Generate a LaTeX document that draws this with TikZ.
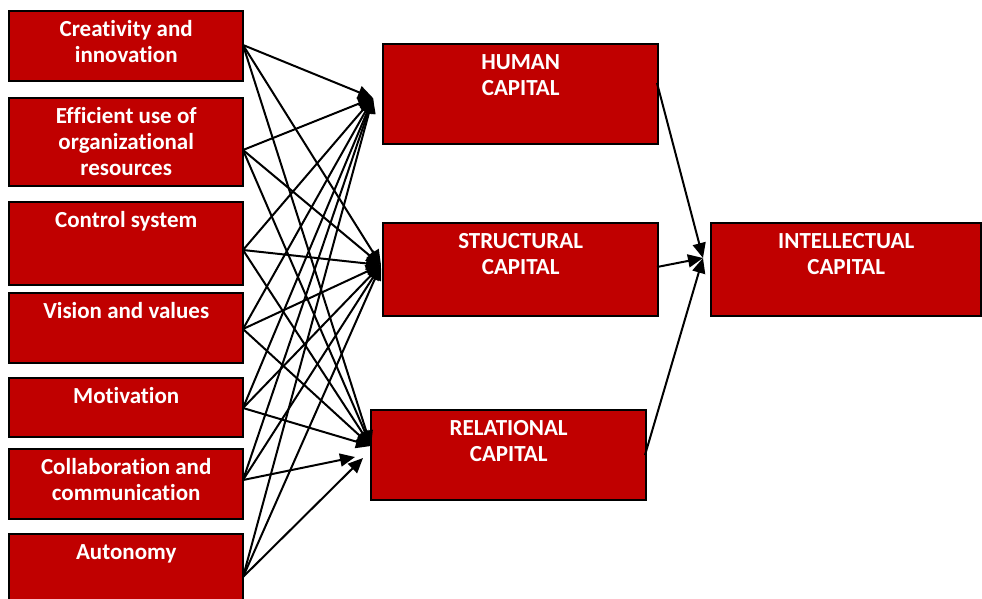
\documentclass[tikz,border=0pt]{standalone}
\usepackage{fontspec}
\setmainfont{Carlito}[Ligatures=NoCommon]
\usetikzlibrary{arrows.meta,calc}
\definecolor{boxred}{RGB}{192,0,0}
\tikzset{
  box/.style={draw=black, fill=boxred, line width=2.4pt, rectangle, inner sep=0pt, anchor=north west},
  lbl/.style={text=white, font=\bfseries\fontsize{23}{26}\selectfont, align=center, anchor=north, inner sep=0pt},
  conn/.style={draw=black, line width=2pt, -{Triangle[length=15pt,width=13pt]}}
}
\begin{document}
\begin{tikzpicture}[x=1pt,y=-1pt]
\useasboundingbox (0,0) rectangle (982,598);
\clip (0,0) rectangle (982,598);
% left boxes
\node[box, minimum width=234pt, minimum height=70pt] (c1) at (8,10) {};
\node[box, minimum width=234pt, minimum height=88pt] (c2) at (8,97) {};
\node[box, minimum width=234pt, minimum height=83pt] (c3) at (8,201) {};
\node[box, minimum width=234pt, minimum height=70pt] (c4) at (8,292) {};
\node[box, minimum width=234pt, minimum height=59pt] (c5) at (8,377) {};
\node[box, minimum width=234pt, minimum height=70pt] (c6) at (8,448) {};
\node[box, minimum width=234pt, minimum height=92pt] (c7) at (8,533) {};
% middle boxes
\node[box, minimum width=275pt, minimum height=100pt] (hum) at (382,43) {};
\node[box, minimum width=275pt, minimum height=93pt] (str) at (382,222) {};
\node[box, minimum width=275pt, minimum height=90pt] (rel) at (370,409) {};
\node[box, minimum width=270pt, minimum height=93pt] (int) at (710,222) {};
% labels (first baseline 26pt below the box top)
\node[lbl] (c1t) at ($(c1.north)+(0,7.8)$) {\strut Creativity and\\innovation};
\node[lbl] (c2t) at ($(c2.north)+(0,7.8)$) {\strut Efficient use of\\organizational\\resources};
\node[lbl] (c3t) at ($(c3.north)+(0,7.8)$) {\strut Control system};
\node[lbl] (c4t) at ($(c4.north)+(0,7.8)$) {\strut Vision and values};
\node[lbl] (c5t) at ($(c5.north)+(0,7.8)$) {\strut Motivation};
\node[lbl] (c6t) at ($(c6.north)+(0,7.8)$) {\strut Collaboration and\\communication};
\node[lbl] (c7t) at ($(c7.north)+(0,7.8)$) {\strut Autonomy};
\node[lbl] (humt) at ($(hum.north)+(0,7.8)$) {\strut HUMAN\\CAPITAL};
\node[lbl] (strt) at ($(str.north)+(0,7.8)$) {\strut STRUCTURAL\\CAPITAL};
\node[lbl] (relt) at ($(rel.north)+(0,7.8)$) {\strut RELATIONAL\\CAPITAL};
\node[lbl] (intt) at ($(int.north)+(0,7.8)$) {\strut INTELLECTUAL\\CAPITAL};
% connector end points
\coordinate (s1) at (243,45);
\coordinate (s2) at (243,150);
\coordinate (s3) at (243,250);
\coordinate (s4) at (243,329);
\coordinate (s5) at (243,408);
\coordinate (s6) at (243,480);
\coordinate (s7) at (243,577);
\coordinate (tH) at (373,98);
\coordinate (tS) at (381,265);
\coordinate (tR) at (371,446);
\coordinate (tR6) at (355,457);
\coordinate (tR7) at (363,458);
\coordinate (hs) at (657,83);
\coordinate (ss) at (657,267);
\coordinate (rs) at (645,455);
\coordinate (tI) at (703,258);
\foreach \s in {s1,s2,s3,s4,s5,s6,s7}{
  \draw[conn] (\s) -- (tH);
  \draw[conn] (\s) -- (tS);
}
\foreach \s in {s1,s2,s3,s4,s5}{
  \draw[conn] (\s) -- (tR);
}
\draw[conn] (s6) -- (tR6);
\draw[conn] (s7) -- (tR7);
\draw[conn] (hs) -- (tI);
\draw[conn] (ss) -- (tI);
\draw[conn] (rs) -- (tI);
\end{tikzpicture}
\end{document}
